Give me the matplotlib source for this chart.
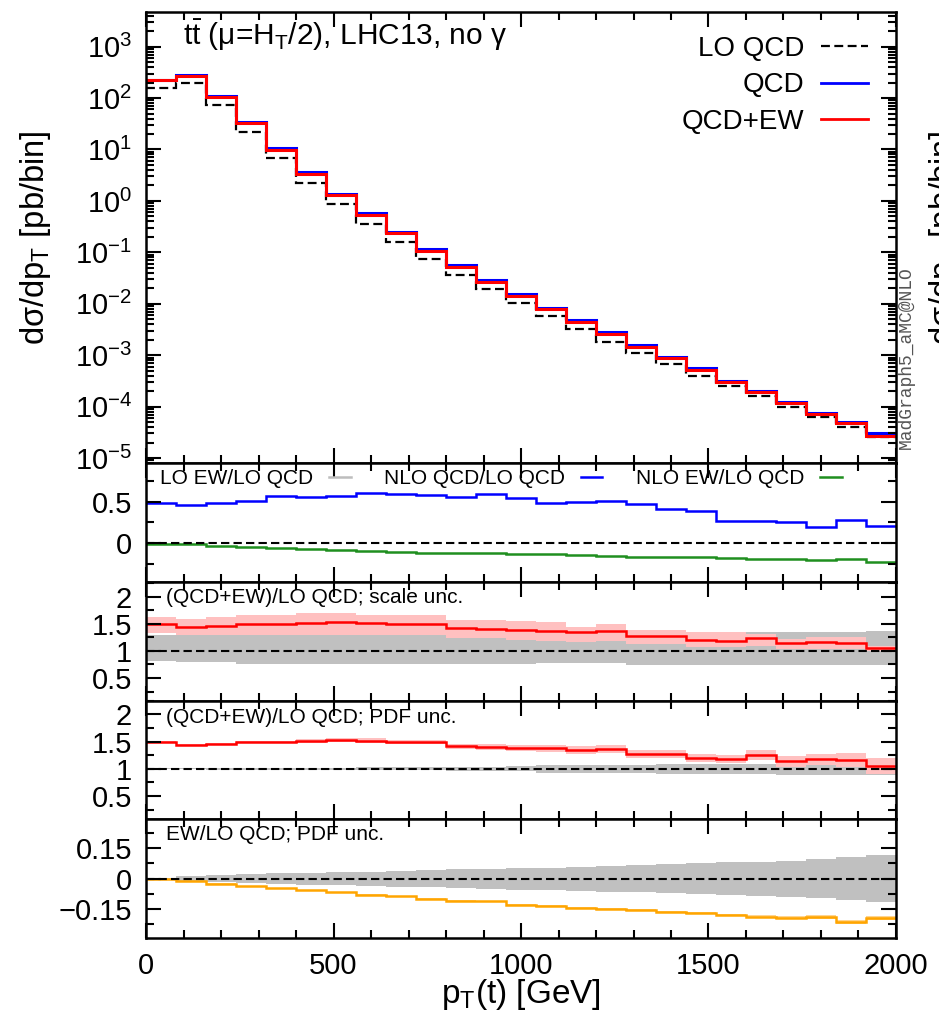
import numpy as np
import matplotlib
matplotlib.use("Agg")
import matplotlib.pyplot as plt
from matplotlib.lines import Line2D
from matplotlib.ticker import MultipleLocator, LogLocator, FuncFormatter, NullFormatter

plt.rcParams['font.family'] = ['Liberation Sans', 'DejaVu Sans']
plt.rcParams['mathtext.fontset'] = 'custom'
plt.rcParams['mathtext.rm'] = 'Liberation Sans'
plt.rcParams['mathtext.it'] = 'Liberation Sans:italic'
plt.rcParams['mathtext.bf'] = 'Liberation Sans:bold'

# bins in pT(t) [GeV]
edges = np.arange(0, 2080, 80)

# top panel, pb/bin
lo_qcd = [155, 194, 73.5, 22.2, 6.75, 2.26, 0.871, 0.351, 0.157, 0.0741, 0.0362, 0.0190, 0.0102,
          0.00577, 0.00322, 0.00182, 0.00111, 6.72e-4, 3.97e-4, 2.54e-4, 1.60e-4, 9.91e-5, 6.33e-5,
          4.05e-5, 2.58e-5]
qcd = [229, 281, 110, 34.3, 10.5, 3.6, 1.36, 0.58, 0.252, 0.116, 0.0574, 0.0289, 0.0155,
       0.00824, 0.00482, 0.00277, 0.00157, 9.19e-4, 5.53e-4, 3.18e-4, 1.97e-4, 1.24e-4, 7.57e-5,
       4.92e-5, 3.09e-5]
qcd_ew = [225, 269, 106, 32.4, 9.8, 3.33, 1.30, 0.53, 0.234, 0.107, 0.0525, 0.0268, 0.0141,
          0.00778, 0.00447, 0.00253, 0.00146, 8.65e-4, 5.13e-4, 3.03e-4, 1.89e-4, 1.15e-4, 7.14e-5,
          4.71e-5, 2.67e-5]

# panel 2: corrections relative to LO QCD
nlo_qcd_ratio = [0.48, 0.46, 0.487, 0.508, 0.571, 0.552, 0.571, 0.607, 0.595, 0.583, 0.559, 0.588,
                 0.54, 0.48, 0.50, 0.508, 0.472, 0.412, 0.388, 0.271, 0.271, 0.26, 0.20, 0.283, 0.208]
nlo_ew_ratio = [-0.003, -0.012, -0.029, -0.04, -0.056, -0.072, -0.08, -0.088, -0.1, -0.112, -0.12,
                -0.116, -0.132, -0.132, -0.144, -0.148, -0.16, -0.16, -0.168, -0.172, -0.184,
                -0.192, -0.196, -0.188, -0.22]

# panels 3/4: (QCD+EW)/LO QCD
full_ratio = [1.49, 1.443, 1.462, 1.492, 1.492, 1.515, 1.535, 1.52, 1.50, 1.49, 1.415, 1.40, 1.382,
              1.376, 1.346, 1.363, 1.279, 1.279, 1.205, 1.18, 1.247, 1.14, 1.172, 1.155, 1.052]
scale_up = [1.624, 1.593, 1.636, 1.655, 1.655, 1.698, 1.698, 1.667, 1.667, 1.667, 1.58, 1.58, 1.544,
            1.531, 1.45, 1.489, 1.39, 1.39, 1.346, 1.346, 1.315, 1.222, 1.254, 1.254, 1.09]
scale_dn = [1.333, 1.296, 1.296, 1.296, 1.296, 1.296, 1.296, 1.296, 1.296, 1.296, 1.24, 1.24, 1.21,
            1.192, 1.16, 1.192, 1.13, 1.13, 1.068, 1.068, 1.10, 1.037, 1.037, 1.037, 1.0]
lo_scale_up = [1.29, 1.30, 1.30, 1.31, 1.31, 1.31, 1.31, 1.31, 1.31, 1.31, 1.32, 1.32, 1.32, 1.32,
               1.32, 1.32, 1.32, 1.32, 1.346, 1.346, 1.346, 1.346, 1.346, 1.346, 1.365]
lo_scale_dn = [0.809, 0.79, 0.79, 0.76, 0.76, 0.76, 0.76, 0.76, 0.76, 0.76, 0.76, 0.76, 0.76, 0.772,
               0.772, 0.772, 0.741, 0.741, 0.741, 0.741, 0.741, 0.741, 0.741, 0.741, 0.741]
pdf_half = [0.015, 0.015, 0.015, 0.018, 0.02, 0.035, 0.04, 0.04, 0.035, 0.035, 0.045, 0.05, 0.055,
            0.07, 0.07, 0.07, 0.075, 0.075, 0.075, 0.08, 0.09, 0.1, 0.1, 0.13, 0.15]
lo_pdf_half = [0.008, 0.01, 0.012, 0.015, 0.018, 0.02, 0.022, 0.025, 0.028, 0.03, 0.035, 0.04, 0.045,
               0.075, 0.075, 0.075, 0.075, 0.09, 0.09, 0.09, 0.09, 0.105, 0.105, 0.105, 0.105]

# panel 5: EW/LO QCD with PDF unc.
ew_ratio = [-0.002, -0.013, -0.025, -0.038, -0.046, -0.057, -0.067, -0.079, -0.087, -0.098, -0.110,
            -0.112, -0.128, -0.134, -0.144, -0.148, -0.156, -0.166, -0.169, -0.179, -0.187, -0.192,
            -0.188, -0.213, -0.193]
ew_pdf_half = [0.002, 0.002, 0.002, 0.002, 0.002, 0.002, 0.002, 0.002, 0.003, 0.003, 0.003, 0.003,
               0.003, 0.004, 0.004, 0.004, 0.005, 0.005, 0.006, 0.006, 0.007, 0.008, 0.009, 0.011, 0.012]
ew_lo_pdf_half = [0.006, 0.012, 0.018, 0.022, 0.026, 0.029, 0.032, 0.035, 0.039, 0.042, 0.046, 0.049,
                  0.053, 0.055, 0.059, 0.063, 0.066, 0.071, 0.075, 0.080, 0.084, 0.089, 0.097, 0.106,
                  0.116]

BLUE = '#0000ff'
RED = '#ff0000'
GREEN = '#1f8f1f'
ORANGE = '#ffa500'
GREY_BAND = '#c0c0c0'
PINK_BAND = '#ffc0c0'
ORANGE_BAND = '#ffd590'
TICK_FS = 21
DASH = (0, (4, 2))


def num_fmt(v, pos):
    v = round(v, 6)
    if v == 0:
        return "0"
    return ("%g" % v).replace('-', '\u2212')


def style_axis(ax):
    for sp in ax.spines.values():
        sp.set_linewidth(1.8)
    ax.set_xlim(0, 2000)
    ax.xaxis.set_major_locator(MultipleLocator(500))
    ax.xaxis.set_minor_locator(MultipleLocator(100))
    ax.tick_params(which='both', direction='in', top=True, right=True, width=1.5,
                   labelsize=TICK_FS, pad=10)
    ax.tick_params(which='major', length=11)
    ax.tick_params(which='minor', length=6)


fig = plt.figure(figsize=(9.39, 10.16), dpi=100)
left, width = 0.1555, 0.7987
ax1 = fig.add_axes([left, 0.5440, width, 0.4445])
ax2 = fig.add_axes([left, 0.4275, width, 0.1165])
ax3 = fig.add_axes([left, 0.3103, width, 0.1172])
ax4 = fig.add_axes([left, 0.1939, width, 0.1164])
ax5 = fig.add_axes([left, 0.0765, width, 0.1174])

# top panel
ax1.set_yscale('log')
ax1.stairs(lo_qcd, edges, baseline=None, color='black', lw=1.6, linestyle=DASH)
ax1.stairs(qcd, edges, baseline=None, color=BLUE, lw=2.2)
ax1.stairs(qcd_ew, edges, baseline=None, color=RED, lw=2.2)
ax1.set_ylim(10 ** -5.103, 10 ** 3.68)
style_axis(ax1)
ax1.yaxis.set_major_locator(LogLocator(base=10, numticks=20))
ax1.yaxis.set_minor_locator(LogLocator(base=10, subs=np.arange(2, 10), numticks=200))
ax1.yaxis.set_minor_formatter(NullFormatter())
ax1.set_xticklabels([])
ax1.text(0.049, 0.926, r"t$\bar{\mathrm{t}}$ (μ=H$_\mathrm{T}$/2), LHC13, no γ",
         transform=ax1.transAxes, fontsize=21.5, va='baseline')
handles = [Line2D([], [], color='black', lw=1.6, linestyle=DASH),
           Line2D([], [], color=BLUE, lw=2.0),
           Line2D([], [], color=RED, lw=2.0)]
ax1.legend(handles, ["LO QCD", "QCD", "QCD+EW"], loc='upper right', bbox_to_anchor=(0.9627, 0.946),
           markerfirst=False, frameon=False, fontsize=20, handlelength=1.7, handletextpad=0.6,
           labelspacing=0.37, borderpad=0, borderaxespad=0)

# panel 2
ax2.axhline(0, color='black', lw=1.5, linestyle=DASH)
ax2.stairs(nlo_ew_ratio, edges, baseline=None, color=GREEN, lw=1.8)
ax2.stairs(nlo_qcd_ratio, edges, baseline=None, color=BLUE, lw=1.8)
ax2.set_ylim(-0.46, 0.96)
style_axis(ax2)
ax2.yaxis.set_major_locator(MultipleLocator(0.5))
ax2.yaxis.set_minor_locator(MultipleLocator(0.25))
ax2.yaxis.set_major_formatter(FuncFormatter(num_fmt))
ax2.set_xticklabels([])
h2 = [Line2D([], [], color='#bdbdbd', lw=1.8),
      Line2D([], [], color=BLUE, lw=1.8),
      Line2D([], [], color=GREEN, lw=1.8)]
ax2.legend(h2, ["LO EW/LO QCD", "NLO QCD/LO QCD", "NLO EW/LO QCD"], ncol=3, loc='upper left',
           bbox_to_anchor=(0.0187, 0.95), markerfirst=False, frameon=False, fontsize=15,
           handlelength=1.05, handletextpad=0.75, columnspacing=1.6, borderpad=0, borderaxespad=0)

# panel 3: scale uncertainty
ax3.stairs(lo_scale_up, edges, baseline=lo_scale_dn, fill=True, color=GREY_BAND, lw=0)
ax3.stairs(scale_up, edges, baseline=scale_dn, fill=True, color=PINK_BAND, lw=0)
ax3.axhline(1, color='black', lw=1.5, linestyle=DASH)
ax3.stairs(full_ratio, edges, baseline=None, color=RED, lw=1.8)
ax3.set_ylim(0.08, 2.28)
style_axis(ax3)
ax3.yaxis.set_major_locator(MultipleLocator(0.5))
ax3.yaxis.set_minor_locator(MultipleLocator(0.25))
ax3.yaxis.set_major_formatter(FuncFormatter(num_fmt))
ax3.set_xticklabels([])
ax3.text(0.027, 0.871, "(QCD+EW)/LO QCD; scale unc.", transform=ax3.transAxes, fontsize=15,
         va='center')

# panel 4: PDF uncertainty
fr = np.array(full_ratio)
ph = np.array(pdf_half)
lph = np.array(lo_pdf_half)
ax4.stairs(1 + lph, edges, baseline=1 - lph, fill=True, color=GREY_BAND, lw=0)
ax4.stairs(fr + ph, edges, baseline=fr - ph, fill=True, color=PINK_BAND, lw=0)
ax4.axhline(1, color='black', lw=1.5, linestyle=DASH)
ax4.stairs(full_ratio, edges, baseline=None, color=RED, lw=1.8)
ax4.set_ylim(0.08, 2.25)
style_axis(ax4)
ax4.yaxis.set_major_locator(MultipleLocator(0.5))
ax4.yaxis.set_minor_locator(MultipleLocator(0.25))
ax4.yaxis.set_major_formatter(FuncFormatter(num_fmt))
ax4.set_xticklabels([])
ax4.text(0.027, 0.862, "(QCD+EW)/LO QCD; PDF unc.", transform=ax4.transAxes, fontsize=15,
         va='center')

# panel 5: EW/LO QCD
ew = np.array(ew_ratio)
eh = np.array(ew_pdf_half)
elh = np.array(ew_lo_pdf_half)
ax5.stairs(elh, edges, baseline=-elh, fill=True, color=GREY_BAND, lw=0)
ax5.stairs(ew + eh, edges, baseline=ew - eh, fill=True, color=ORANGE_BAND, lw=0)
ax5.axhline(0, color='black', lw=1.5, linestyle=DASH)
ax5.stairs(ew_ratio, edges, baseline=None, color=ORANGE, lw=1.8)
ax5.set_ylim(-0.293, 0.294)
style_axis(ax5)
ax5.yaxis.set_major_locator(MultipleLocator(0.15))
ax5.yaxis.set_minor_locator(MultipleLocator(0.075))
ax5.yaxis.set_major_formatter(FuncFormatter(num_fmt))
ax5.xaxis.set_major_formatter(FuncFormatter(num_fmt))
ax5.text(0.027, 0.866, "EW/LO QCD; PDF unc.", transform=ax5.transAxes, fontsize=15, va='center')

# labels
fig.text(36 / 939, 1 - 238 / 1016, r"dσ/dp$_\mathrm{T}$ [pb/bin]", rotation=90, ha='center',
         va='center', fontsize=23.5)
fig.text(0.555, 1 - 995 / 1016, r"p$_\mathrm{T}$(t) [GeV]", ha='center', va='center', fontsize=24)
fig.text(906 / 939, 1 - 358 / 1016, "MadGraph5_aMC@NLO", rotation=90, ha='center', va='center',
         fontsize=13, family=['Liberation Mono', 'DejaVu Sans Mono'], color='#555555')
# edge of the neighbouring plot's label
fig.text(927 / 939, 1 - 238 / 1016, r"dσ/dp$_\mathrm{T}$ [pb/bin]", rotation=90, ha='left',
         va='center', fontsize=23.5)

fig.savefig("out.png", dpi=100)
